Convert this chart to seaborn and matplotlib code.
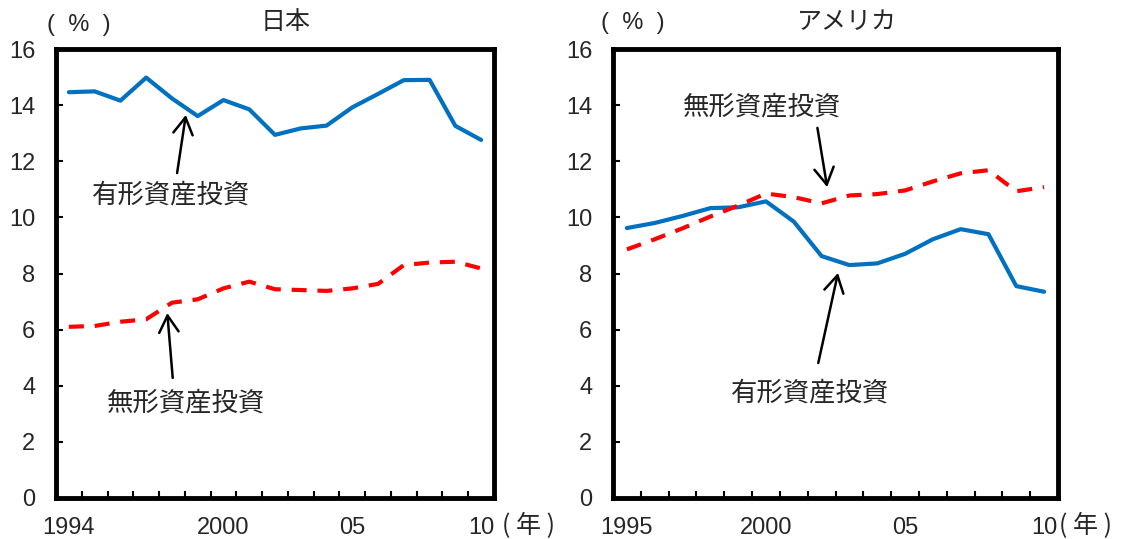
import numpy as np
import pandas as pd
import matplotlib
matplotlib.use("Agg")
import matplotlib.pyplot as plt
import seaborn as sns

# data (share of output, %)
jp_years = list(range(1994, 2011))
jp_tangible = [14.46, 14.49, 14.16, 14.98, 14.24, 13.61, 14.18, 13.85, 12.94,
               13.17, 13.27, 13.92, 14.40, 14.89, 14.90, 13.26, 12.76]
jp_intangible = [6.10, 6.13, 6.28, 6.37, 6.96, 7.08, 7.47, 7.71, 7.44,
                 7.41, 7.38, 7.47, 7.63, 8.30, 8.39, 8.42, 8.18]

us_years = list(range(1995, 2011))
us_tangible = [9.62, 9.80, 10.05, 10.33, 10.36, 10.57, 9.85, 8.62, 8.30,
               8.36, 8.70, 9.22, 9.58, 9.40, 7.55, 7.35]
us_intangible = [8.86, 9.22, 9.61, 10.03, 10.42, 10.85, 10.72, 10.50, 10.78,
                 10.83, 10.96, 11.28, 11.57, 11.68, 10.93, 11.08]

jp_ticks = [1994, 2000, 2005, 2010]
us_ticks = [1995, 2000, 2005, 2010]
tick_labels_jp = ["1994", "2000", "05", "10"]
tick_labels_us = ["1995", "2000", "05", "10"]

TANGIBLE = "有形資産投資"
INTANGIBLE = "無形資産投資"

sns.set_style("white")
plt.rcParams["font.family"] = ["Liberation Sans", "Noto Sans CJK JP"]

BLUE = "#0070C0"
RED = "#FF0000"
FS = 17
JFS = 19
CJK = ["Noto Sans CJK JP", "DejaVu Sans"]

fig = plt.figure(figsize=(11.39, 5.39), dpi=100)
ax_jp = fig.add_axes([56 / 1139, 41 / 539, 438 / 1139, 449 / 539])
ax_us = fig.add_axes([613 / 1139, 41 / 539, 445 / 1139, 449 / 539])


def draw(ax, years, tang, intang, ticks, labels, title, year_x):
    df = pd.DataFrame({"year": years, "tang": tang, "intang": intang})
    sns.lineplot(data=df, x="year", y="tang", ax=ax, color=BLUE, lw=3)
    sns.lineplot(data=df, x="year", y="intang", ax=ax, color=RED, lw=3)
    ax.lines[1].set_dashes((3.6, 2.6))
    ax.set_xlim(years[0] - 0.5, years[-1] + 0.5)
    ax.set_ylim(0, 16)
    ax.set_yticks(np.arange(0, 17, 2))
    ax.set_xticks(ticks)
    ax.set_xticklabels(labels)
    ax.set_xticks(np.arange(years[0] + 0.5, years[-1]), minor=True)
    ax.set_xlabel("")
    ax.set_ylabel("")
    for s in ax.spines.values():
        s.set_linewidth(3.5)
        s.set_color("black")
    ax.tick_params(axis="x", which="major", length=0, pad=14, labelsize=FS)
    ax.tick_params(axis="x", which="minor", direction="in", length=5,
                   width=1.5, color="black", bottom=True)
    ax.tick_params(axis="y", direction="in", length=5, width=1.5,
                   color="black", left=True, pad=15, labelsize=FS)
    ax.text(0.525, 1.06, title, transform=ax.transAxes, ha="center",
            va="center", fontsize=18)
    ax.text(year_x, -0.063, "( 年 )", transform=ax.transAxes, ha="left",
            va="center", fontsize=18, family=CJK)


draw(ax_jp, jp_years, jp_tangible, jp_intangible, jp_ticks, tick_labels_jp,
     "日本", 1.018)
draw(ax_us, us_years, us_tangible, us_intangible, us_ticks, tick_labels_us,
     "アメリカ", 1.002)

fig.text(79 / 1139, 1 - 25 / 539, "(  %  )", ha="center", va="center", fontsize=FS)
fig.text(633 / 1139, 1 - 23 / 539, "(  %  )", ha="center", va="center", fontsize=FS)

arrow = dict(arrowstyle="->,head_length=0.6,head_width=0.35", lw=1.8,
             color="black", shrinkA=0, shrinkB=0, mutation_scale=20)

# Japan annotations
ax_jp.text(1997.95, 10.8, TANGIBLE, ha="center", va="center", fontsize=JFS)
ax_jp.annotate("", xy=(1998.54, 13.65), xytext=(1998.2, 11.58), arrowprops=arrow)
ax_jp.text(1998.54, 3.39, INTANGIBLE, ha="center", va="center", fontsize=JFS)
ax_jp.annotate("", xy=(1997.82, 6.59), xytext=(1998.03, 4.28), arrowprops=arrow)

# US annotations
ax_us.text(1999.85, 13.93, INTANGIBLE, ha="center", va="center", fontsize=JFS)
ax_us.annotate("", xy=(2002.2, 11.08), xytext=(2001.85, 13.19), arrowprops=arrow)
ax_us.text(2001.57, 3.74, TANGIBLE, ha="center", va="center", fontsize=JFS)
ax_us.annotate("", xy=(2002.59, 8.02), xytext=(2001.88, 4.81), arrowprops=arrow)

fig.savefig("out.png", dpi=100)
